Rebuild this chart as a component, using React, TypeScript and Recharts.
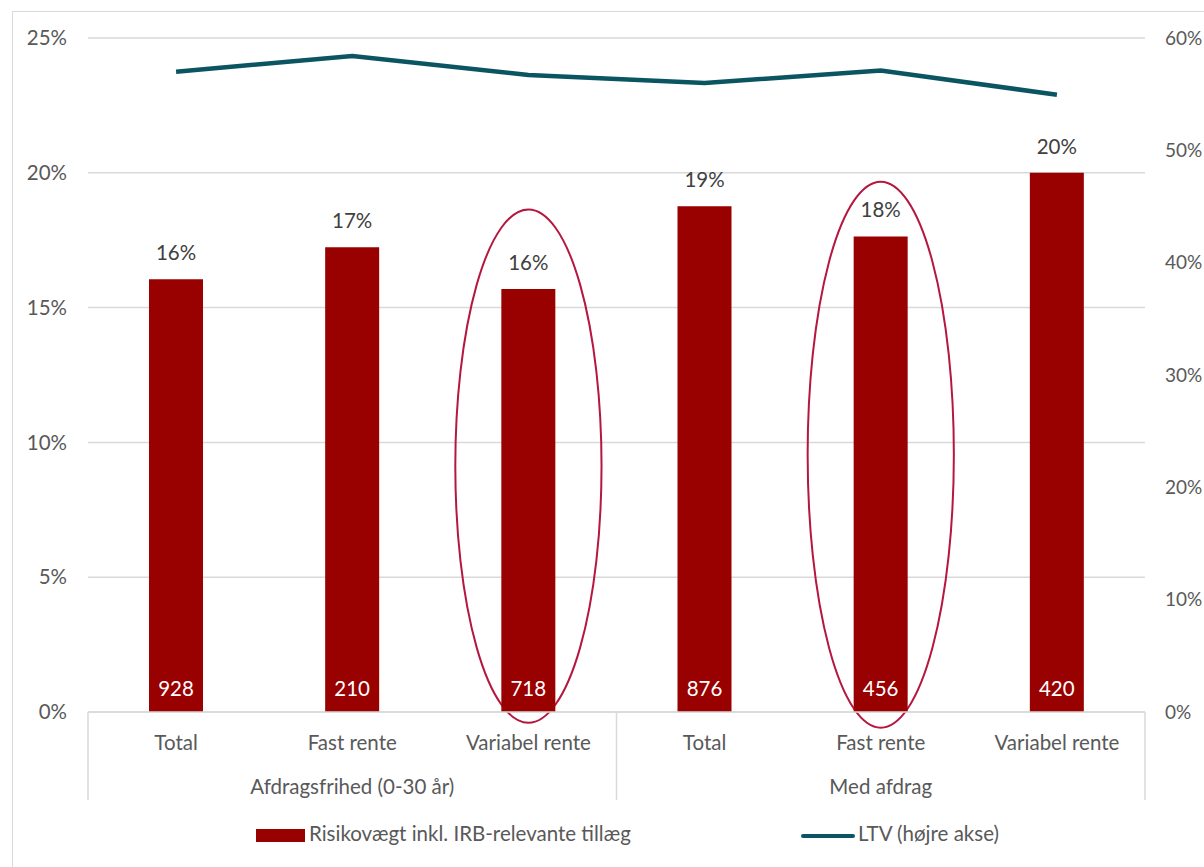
import { ComposedChart, Bar, Line, XAxis, YAxis, CartesianGrid, Legend, LabelList, ReferenceArea } from "recharts";

const categories = ["Total", "Fast rente", "Variabel rente", "Total", "Fast rente", "Variabel rente"];
const categoryKeys = ["a1", "a2", "a3", "b1", "b2", "b3"];
const groupOf = [0, 0, 0, 1, 1, 1];
const groups = ["Afdragsfrihed (0-30 år)", "Med afdrag"];
const riskWeight = [16.05, 17.24, 15.69, 18.76, 17.64, 20.0];
const loanCounts = [928, 210, 718, 876, 456, 420];
const ltv = [57.0, 58.4, 56.7, 56.0, 57.1, 54.95];
const leftTicks = [0, 5, 10, 15, 20, 25];
const rightTicks = [0, 10, 20, 30, 40, 50, 60];
const highlightKeys = ["a3", "b2"];
const highlightTop = [18.64, 19.67];
const highlightBottom = [-0.4, -0.58];

const seriesNames = ["Risikovægt inkl. IRB-relevante tillæg", "LTV (højre akse)"];

const W = 1196, H = 859;
const LEFT_W = 80, RIGHT_W = 59;
const PLOT_W = W - LEFT_W - RIGHT_W;
const BAND = PLOT_W / categories.length;
const FONT = "Lato, 'Open Sans', sans-serif";
const FS = 20.5;
const BAR_COLOR = "#990000";
const LINE_COLOR = "#0B5563";
const GRID = "#d9d9d9";

const data = categoryKeys.map((key, i) => ({
  key,
  idx: i,
  risk: riskWeight[i],
  count: loanCounts[i],
  ltv: ltv[i],
}));

function CategoryTick(props: any) {
  const { x, y, payload, index } = props;
  const i = index ?? categoryKeys.indexOf(payload.value);
  const g = groupOf[i];
  const members = groupOf.map((v, j) => (v === g ? j : -1)).filter((j) => j >= 0);
  const mid = members[Math.floor(members.length / 2)];
  const lines: number[] = [];
  if (i === 0 || groupOf[i - 1] !== g) lines.push(x - BAND / 2);
  if (i === categories.length - 1) lines.push(x + BAND / 2);
  return (
    <g>
      {lines.map((lx, k) => (
        <line key={k} x1={lx} x2={lx} y1={y} y2={y + 88} stroke={GRID} strokeWidth={1.5} />
      ))}
      <text x={x} y={y + 30} textAnchor="middle" dominantBaseline="central" fill="#595959" fontSize={FS} fontFamily={FONT}>
        {categories[i]}
      </text>
      {i === mid && (
        <text x={x} y={y + 74} textAnchor="middle" dominantBaseline="central" fill="#595959" fontSize={FS} fontFamily={FONT}>
          {groups[g]}
        </text>
      )}
    </g>
  );
}

function TopLabel(props: any) {
  const { x, y, width, value } = props;
  return (
    <text x={x + width / 2} y={y - 27} textAnchor="middle" dominantBaseline="central" fill="#404040" fontSize={FS} fontFamily={FONT}>
      {Math.round(value)}%
    </text>
  );
}

function CountLabel(props: any) {
  const { x, y, width, height, value } = props;
  return (
    <text x={x + width / 2} y={y + height - 24} textAnchor="middle" dominantBaseline="central" fill="#ffffff" fontSize={FS} fontFamily={FONT}>
      {value}
    </text>
  );
}

function Ellipse(props: any) {
  const { x, y, width, height } = props;
  return (
    <ellipse cx={x + width / 2} cy={y + height / 2} rx={width * 0.415} ry={height / 2} fill="none" stroke="#B5173F" strokeWidth={2} />
  );
}

function LegendContent() {
  return (
    <div style={{ position: "relative", width: W, height: 55, fontFamily: FONT, fontSize: FS, color: "#595959" }}>
      <div style={{ position: "absolute", left: 248, top: 17, width: 49, height: 13, background: BAR_COLOR }} />
      <div style={{ position: "absolute", left: 301, top: 8, lineHeight: "26px", whiteSpace: "nowrap" }}>{seriesNames[0]}</div>
      <div style={{ position: "absolute", left: 793, top: 22, width: 54, height: 4, background: LINE_COLOR, borderRadius: 2 }} />
      <div style={{ position: "absolute", left: 850, top: 8, lineHeight: "26px", whiteSpace: "nowrap" }}>{seriesNames[1]}</div>
    </div>
  );
}

export default function App() {
  return (
    <div style={{ position: "absolute", left: 8, top: 8, width: W, height: H, overflow: "hidden", background: "#fff" }}>
      <div style={{ position: "absolute", left: 4, top: 3, width: 1400, height: 1200, border: `1px solid ${GRID}` }} />
      <ComposedChart width={W} height={H} data={data} margin={{ top: 30, right: 0, bottom: 0, left: 0 }}>
        <CartesianGrid yAxisId="left" vertical={false} stroke={GRID} strokeWidth={1.5} />
        <XAxis
          dataKey="key"
          height={100}
          interval={0}
          axisLine={{ stroke: GRID, strokeWidth: 1.5 }}
          tickLine={false}
          tickSize={0}
          tickMargin={0}
          tick={<CategoryTick />}
        />
        <YAxis
          yAxisId="left"
          width={LEFT_W}
          domain={[0, 25]}
          ticks={leftTicks}
          tickFormatter={(v: number) => `${v}%`}
          axisLine={false}
          tickLine={false}
          tickSize={0}
          tickMargin={21}
          tick={{ fill: "#595959", fontSize: FS, fontFamily: FONT }}
        />
        <YAxis
          yAxisId="right"
          orientation="right"
          width={RIGHT_W}
          domain={[0, 60]}
          ticks={rightTicks}
          tickFormatter={(v: number) => `${v}%`}
          axisLine={false}
          tickLine={false}
          tickSize={0}
          tickMargin={20}
          tick={{ fill: "#595959", fontSize: 19, fontFamily: FONT, textAnchor: "start" }}
        />
        <Legend verticalAlign="bottom" height={55} content={<LegendContent />} wrapperStyle={{ left: 0, width: W }} />
        <Bar yAxisId="left" dataKey="risk" name={seriesNames[0]} fill={BAR_COLOR} barSize={54} isAnimationActive={false}>
          <LabelList dataKey="risk" content={<TopLabel />} />
          <LabelList dataKey="count" content={<CountLabel />} />
        </Bar>
        <Line
          yAxisId="right"
          dataKey="ltv"
          name={seriesNames[1]}
          type="linear"
          stroke={LINE_COLOR}
          strokeWidth={4.5}
          dot={false}
          activeDot={false}
          isAnimationActive={false}
        />
        {highlightKeys.map((k, i) => (
          <ReferenceArea
            key={k}
            yAxisId="left"
            x1={k}
            x2={k}
            y1={highlightBottom[i]}
            y2={highlightTop[i]}
            ifOverflow="visible"
            shape={<Ellipse />}
          />
        ))}
      </ComposedChart>
    </div>
  );
}
